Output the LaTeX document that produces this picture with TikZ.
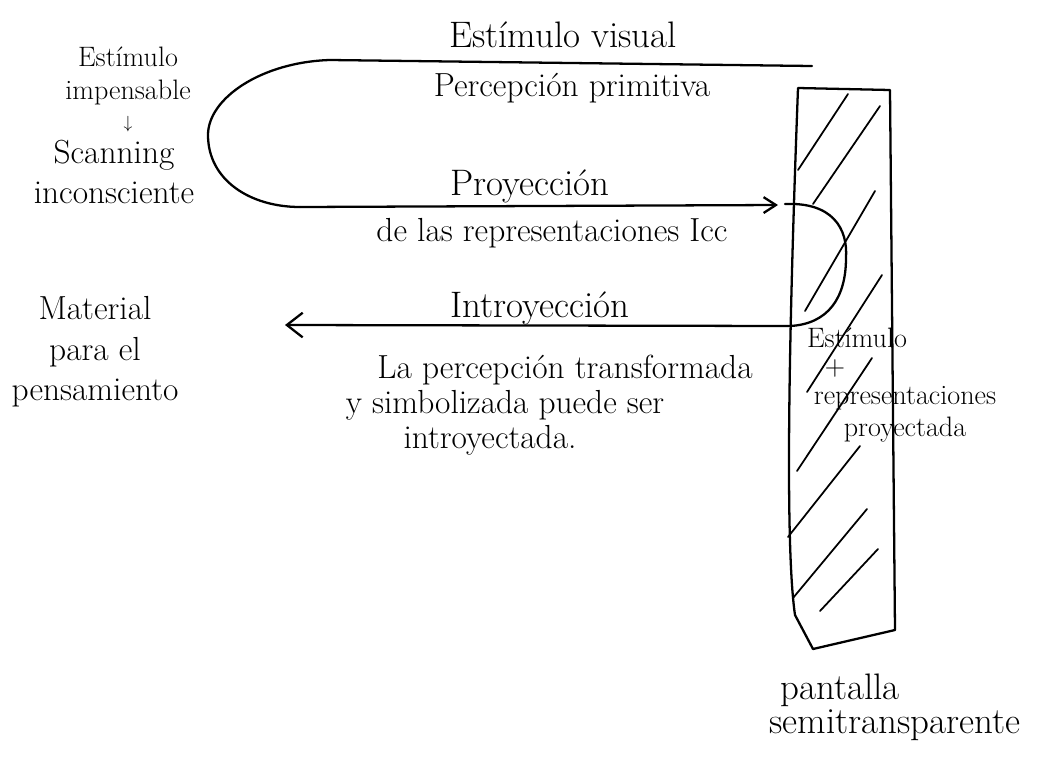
\documentclass[tikz,border=0pt]{standalone}
\usepackage{amsmath}
\usetikzlibrary{calc, arrows.meta}

\begin{document}
\begin{tikzpicture}[x=0.02cm, y=-0.02cm, line width=1.3pt, line cap=round, line join=round]
  \tikzset{
    txt/.style={font=\fontsize{19}{23}\selectfont, inner sep=1pt},
    big/.style={font=\fontsize{21}{25}\selectfont, inner sep=1pt},
    small/.style={font=\fontsize{16}{19}\selectfont, inner sep=1pt},
    barb/.style={-{Straight Barb[length=9pt, width=14pt]}}
  }
  \useasboundingbox (0,0) rectangle (1055,758);

  % upper loop
  \coordinate (T1) at (812,66);
  \coordinate (T0) at (330,60);
  \coordinate (L) at (208,135);
  \coordinate (B0) at (300,207);
  \coordinate (P) at (778,205);
  \draw (T1) -- (T0) .. controls (262,62) and (208,98) .. (L)
        .. controls (208,180) and (250,207) .. (B0);
  \draw[-{Straight Barb[length=7pt, width=9pt]}] (B0) -- (P);

  % loop through the screen
  \coordinate (R0) at (785,204);
  \coordinate (RR) at (846,258);
  \coordinate (R1) at (790,326);
  \coordinate (I1) at (285,325);
  \draw[barb] (R0) .. controls (832,202) and (848,228) .. (RR)
        .. controls (846,298) and (828,324) .. (R1) -- (I1);

  % screen
  \coordinate (S1) at (798,88);
  \coordinate (S2) at (890,90);
  \coordinate (S3) at (895,630);
  \coordinate (S4) at (813,649);
  \coordinate (S5) at (795,615);
  \draw (S1) -- (S2) -- (S3) -- (S4) -- (S5) .. controls (784,540) and (790,300) .. (S1);
  \foreach \a/\b in {{(798,170)}/{(848,94)}, {(813,204)}/{(880,106)},
                     {(805,311)}/{(875,191)}, {(807,392)}/{(882,275)},
                     {(797,471)}/{(872,358)}, {(788,537)}/{(860,446)},
                     {(793,598)}/{(867,509)}, {(820,611)}/{(878,549)}}
    \draw[line width=1pt] \a -- \b;

  % labels
  \node[big] (est) at (563,35) {Estímulo visual};
  \node[txt] (perc) at (572,88) {Percepción primitiva};
  \node[small, align=center] (imp) at (128,76) {Estímulo\\impensable};
  \node[font=\normalsize, inner sep=0pt] (down) at (128,124) {$\downarrow$};
  \node[txt, align=center] (scan) at (114,172) {Scanning\\inconsciente};
  \node[big] (proy) at (530,186) {Proyección};
  \node[txt] (repr) at (552,233) {de las representaciones Icc};
  \node[big] (intro) at (540,308) {Introyección};
  \node[txt] (tr1) at (565,370) {La percepción transformada};
  \node[txt] (tr2) at (505,405) {y simbolizada puede ser};
  \node[txt] (tr3) at (490,440) {introyectada.};
  \node[txt, align=center] (mat) at (95,352) {Material\\para el\\pensamiento};
  \node[small] (sr1) at (857,338) {Estímulo};
  \node[small] (sr2) at (835,368) {+};
  \node[small] (sr3) at (905,398) {representaciones};
  \node[small] (sr4) at (905,430) {proyectada};
  \node[big] (pan1) at (840,690) {pantalla};
  \node[big] (pan2) at (895,725) {semitransparente};
\end{tikzpicture}
\end{document}
